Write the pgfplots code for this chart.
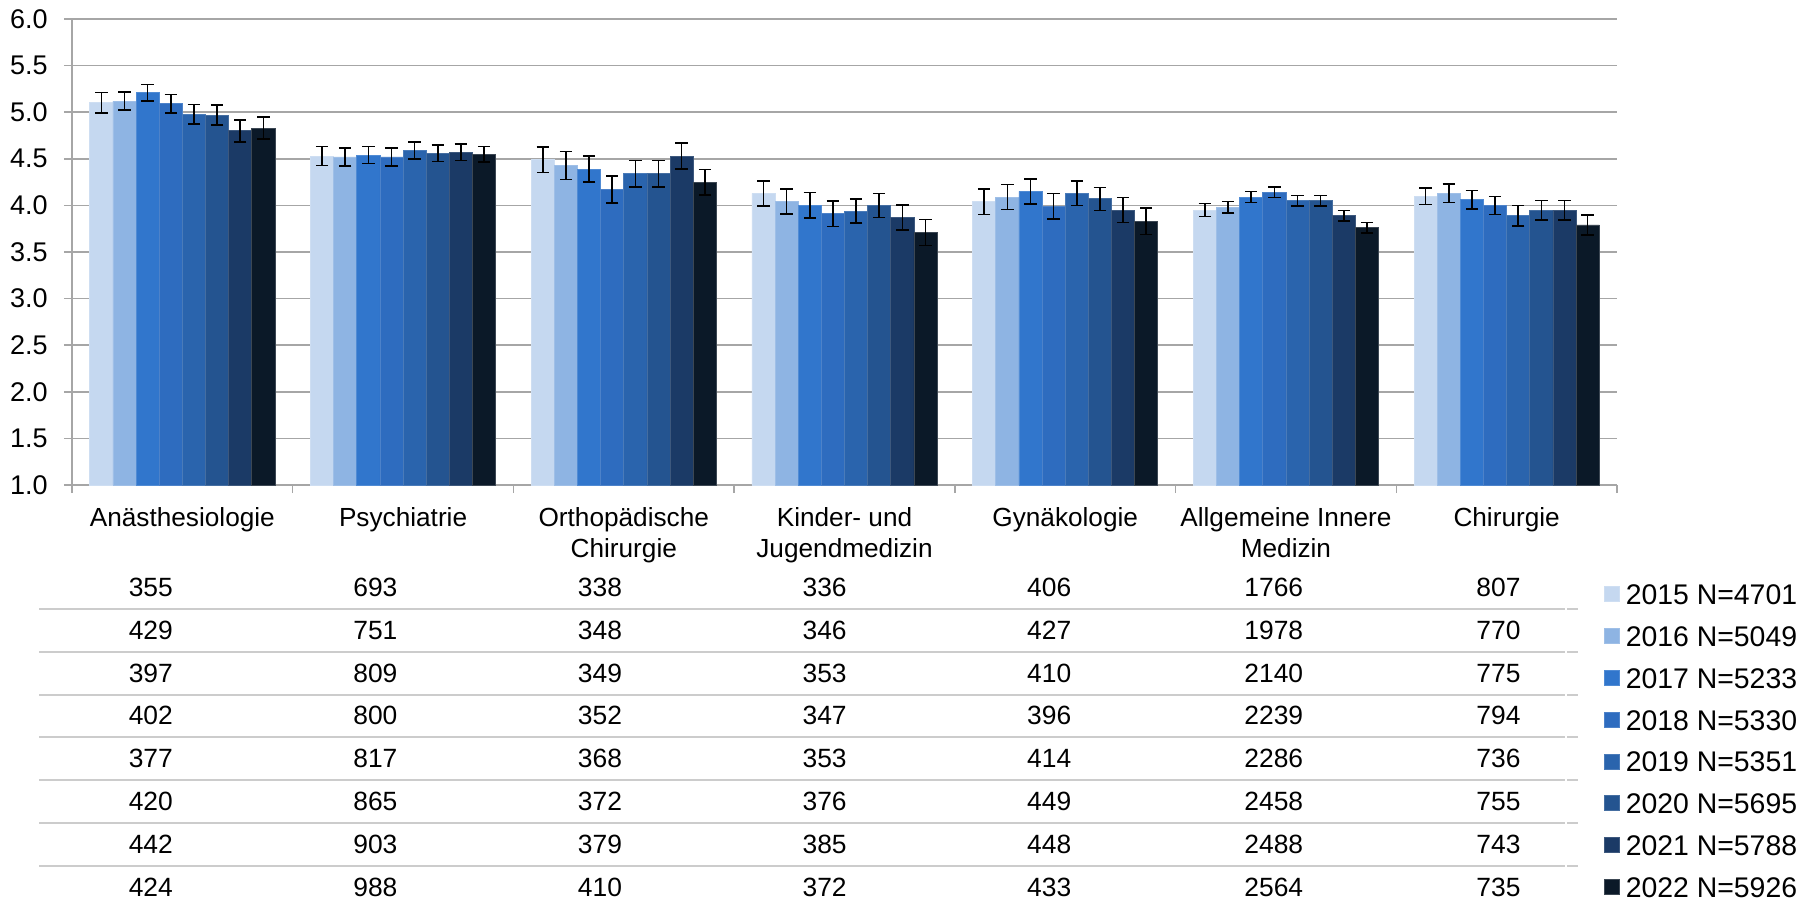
\documentclass[border=0pt]{standalone}
\usepackage{fontspec}
\setmainfont{Liberation Sans}
\usepackage{pgfplots}
\usepackage{pgfplotstable}
\pgfplotsset{compat=1.18}

\definecolor{c15}{HTML}{C5D8F0}
\definecolor{c16}{HTML}{8EB4E3}
\definecolor{c17}{HTML}{3176CC}
\definecolor{c18}{HTML}{2E6CBF}
\definecolor{c19}{HTML}{2A64AD}
\definecolor{c20}{HTML}{245490}
\definecolor{c21}{HTML}{1B3A66}
\definecolor{c22}{HTML}{0B1928}

% means and half-widths of the error bars, per department
\pgfplotstableread{
x  v15  e15   v16  e16   v17  e17   v18  e18   v19  e19   v20  e20   v21  e21   v22  e22
0  5.10 0.110 5.12 0.095 5.21 0.090 5.09 0.100 4.98 0.105 4.97 0.107 4.80 0.118 4.83 0.120
1  4.53 0.100 4.52 0.095 4.54 0.090 4.52 0.095 4.59 0.093 4.56 0.090 4.57 0.088 4.55 0.084
2  4.49 0.136 4.43 0.150 4.39 0.140 4.17 0.145 4.34 0.143 4.34 0.143 4.53 0.140 4.25 0.136
3  4.13 0.134 4.04 0.134 4.00 0.136 3.91 0.138 3.94 0.130 4.00 0.129 3.87 0.134 3.71 0.140
4  4.04 0.138 4.09 0.132 4.15 0.134 3.99 0.138 4.13 0.130 4.07 0.123 3.95 0.134 3.83 0.140
5  3.95 0.068 3.98 0.061 4.09 0.059 4.14 0.057 4.05 0.059 4.05 0.055 3.89 0.057 3.76 0.057
6  4.10 0.089 4.13 0.098 4.06 0.098 4.00 0.098 3.89 0.111 3.95 0.104 3.95 0.105 3.79 0.109
}\means

\begin{document}
\begin{tikzpicture}
\begin{axis}[
  scale only axis,
  width=772.5pt, height=233pt,
  ybar=0pt, bar width=11.575pt,
  xmin=-0.5, xmax=6.5,
  ymin=1, ymax=6,
  axis lines*=left,
  axis line style={gray!70, line width=0.75pt},
  ymajorgrids,
  major grid style={gray!70, line width=0.75pt},
  tick align=outside,
  ytick={1,1.5,...,6},
  major tick length=4pt,
  y tick style={gray!70, line width=0.75pt},
  xtick={0,...,6},
  major x tick style={draw=none},
  minor xtick={-0.5,0.5,...,6.5},
  minor tick length=4pt,
  minor x tick style={gray!70, line width=0.75pt},
  xticklabels={Anästhesiologie, Psychiatrie, {Orthopädische\\Chirurgie}, {Kinder- und\\Jugendmedizin}, Gynäkologie, {Allgemeine Innere\\Medizin}, Chirurgie},
  xticklabel style={font=\fontsize{13.1}{15.7}\selectfont, align=center, inner sep=0pt, anchor=north, yshift=-7pt},
  yticklabel style={font=\fontsize{13.5}{16}\selectfont, inner sep=0pt, anchor=east, xshift=-8pt},
  /pgf/number format/.cd, fixed, fixed zerofill, precision=1, assume math mode=true,
  /pgfplots/.cd,
  clip=false,
  every axis plot/.append style={line width=0.4pt},
  error bars/error bar style={black, line width=0.75pt},
  error bars/error mark options={black, rotate=90, mark size=3.1pt, line width=0.75pt},
  legend cell align=left,
  legend style={at={(0.99159,-0.21094)}, anchor=north west, draw=none, fill=none,
    inner sep=0pt, outer sep=0pt, row sep=10.45pt, column sep=3pt,
    font=\fontsize{14.2}{17}\selectfont,
    nodes={inner sep=0pt, text height=10.5pt, text depth=0pt}},
  legend image code/.code={\fill[#1] (0pt,-3.75pt) rectangle (7.5pt,3.75pt);},
]
\addplot[fill=c15, draw=c15!85!white, error bars/.cd, y dir=both, y explicit] table[x=x, y=v15, y error=e15] {\means};
\addplot[fill=c16, draw=c16!85!white, error bars/.cd, y dir=both, y explicit] table[x=x, y=v16, y error=e16] {\means};
\addplot[fill=c17, draw=c17!85!white, error bars/.cd, y dir=both, y explicit] table[x=x, y=v17, y error=e17] {\means};
\addplot[fill=c18, draw=c18!85!white, error bars/.cd, y dir=both, y explicit] table[x=x, y=v18, y error=e18] {\means};
\addplot[fill=c19, draw=c19!85!white, error bars/.cd, y dir=both, y explicit] table[x=x, y=v19, y error=e19] {\means};
\addplot[fill=c20, draw=c20!85!white, error bars/.cd, y dir=both, y explicit] table[x=x, y=v20, y error=e20] {\means};
\addplot[fill=c21, draw=c21!85!white, error bars/.cd, y dir=both, y explicit] table[x=x, y=v21, y error=e21] {\means};
\addplot[fill=c22, draw=c22!80!white, error bars/.cd, y dir=both, y explicit] table[x=x, y=v22, y error=e22] {\means};
\legend{2015 N=4701, 2016 N=5049, 2017 N=5233, 2018 N=5330, 2019 N=5351, 2020 N=5695, 2021 N=5788, 2022 N=5926}
\end{axis}

% data table: number of answers per department and year
\foreach \j in {0,...,6} {
  \draw[gray!40, line width=1pt] ({-16.5pt}, {(-62.05-21.38*\j)*1pt}) -- (746.5pt, {(-62.05-21.38*\j)*1pt});
  \draw[gray!40, line width=1pt] (747.5pt, {(-62.05-21.38*\j)*1pt}) -- (753pt, {(-62.05-21.38*\j)*1pt});
}
\foreach \row [count=\r from 0] in {
  {355,693,338,336,406,1766,807},
  {429,751,348,346,427,1978,770},
  {397,809,349,353,410,2140,775},
  {402,800,352,347,396,2239,794},
  {377,817,368,353,414,2286,736},
  {420,865,372,376,449,2458,755},
  {442,903,379,385,448,2488,743},
  {424,988,410,372,433,2564,735}} {
  \foreach \v [count=\c from 0] in \row {
    \node[anchor=base, inner sep=0pt, font=\fontsize{13.2}{16}\selectfont]
      at ({(39.4+112.3*\c)*1pt}, {(-55.85-21.38*\r)*1pt}) {\v};
  }
}

\pgfresetboundingbox
\path[use as bounding box] (-36pt,-207.5pt) rectangle (871pt,242.5pt);
\end{tikzpicture}
\end{document}
